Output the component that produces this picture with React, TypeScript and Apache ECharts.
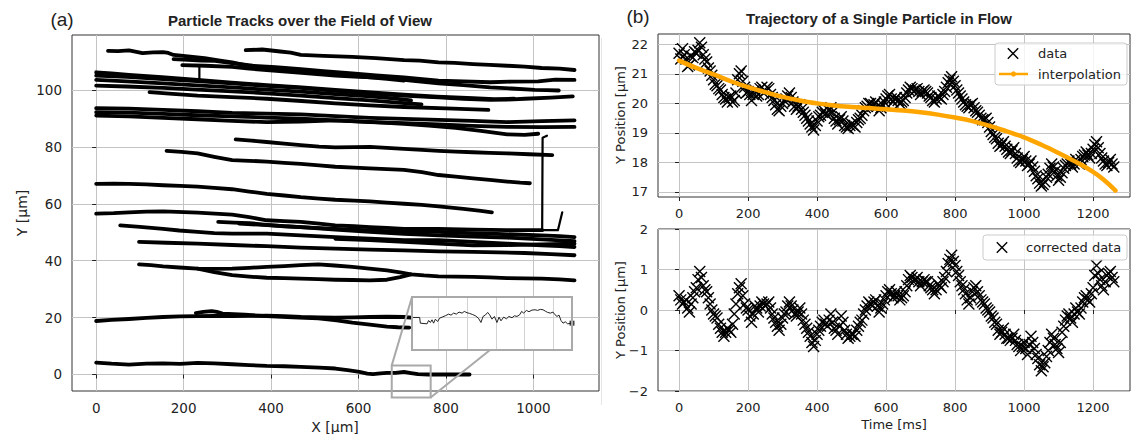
import React, { useEffect, useRef } from 'react';
import * as echarts from 'echarts';

type Pt = [number, number];

// ---------- (a) particle tracks, X [µm], Y [µm] ----------
const PARTICLE_TRACKS: Pt[][] = [
  [[27,113.7],[50,113.6],[75,113.9],[95,113.3],[106,112.9],[130,113.2],[153,113.3],[165,113],[177,112.3],[210,111.8],[248,111.2],[280,110.4],[311,109.7],[335,108.9],[358,108.1],[390,107.7],[429,107],[480,106.6],[547,105.6],[590,105],[626,104.4],[665,103.9],[704,103.3]],
  [[342,114],[380,114.2],[421,113.5],[445,113.1],[468,112.3],[520,112],[586,111.6],[640,111.2],[704,110.5],[740,110.3],[783,109.7],[820,109.5],[862,109.1],[900,108.8],[940,108.5],[980,108.2],[1019,107.7],[1060,107.5],[1094,107]],
  [[177,110.8],[210,110.6],[240,110.3],[272,110.2],[310,109.4],[358,108.5],[410,108],[468,107.3],[520,106.6],[586,105.8],[640,105.1],[704,104.4],[740,103.9],[783,103.3],[840,103],[901,102.7],[950,102.9],[1011,103],[1050,103.6],[1094,103.5]],
  [[197,108.7],[250,108.5],[311,108.1],[350,107.5],[390,107],[470,106],[547,105],[600,104.6],[665,104.2],[720,103.3],[783,102.3],[840,101.7],[901,100.9],[950,100.5],[1003,100],[1030,99.9],[1058,99.8]],
  [[0,106.2],[35,105.8],[75,105.3],[150,104.5],[232,103.5],[310,102.6],[390,101.7],[470,100.9],[547,100],[620,99.2],[704,98.3],[780,97.6],[862,97.1],[910,96.8],[956,96.9]],
  [[0,105],[70,104.6],[153,103.8],[230,103.1],[311,102.3],[390,101.4],[468,100.7],[547,99.7],[626,98.8],[700,98],[783,97.4],[840,96.9],[901,96.5],[940,96.6],[980,96.9],[1040,97.3],[1090,97.7]],
  [[0,103.5],[70,103],[153,102.3],[230,101.6],[311,100.9],[390,100.1],[468,99.4],[547,98.5],[626,97.7],[680,97],[720,96.3]],
  [[0,101.5],[70,101.2],[153,100.7],[230,100.1],[311,99.5],[390,98.8],[468,98],[547,97.1],[626,96.3],[690,95.5],[744,94.9]],
  [[122,99.2],[175,98.6],[232,98],[310,97.5],[390,96.9],[470,96.1],[547,95.3],[626,94.6],[704,94],[800,93.5],[897,93]],
  [[0,93.6],[75,93.4],[153,93],[232,92.5],[311,91.9],[390,91.7],[468,91.4],[547,90.8],[626,90.2],[704,89.8],[783,89.5],[860,89.1],[940,88.7],[1020,89],[1094,89.3]],
  [[0,92.2],[75,92],[153,91.6],[232,91.1],[311,90.7],[390,90.3],[468,89.9],[547,89.3],[626,88.7],[704,88.3],[783,87.9],[860,87.4],[940,87],[1020,86.9],[1094,87]],
  [[0,91],[75,90.7],[153,90.2],[232,89.7],[311,89.1],[390,88.7],[468,88.9],[547,89.3],[626,88.8],[704,88.1],[760,87.5],[822,86.7],[880,85.6],[940,84.4],[980,84.2],[1011,84.6]],
  [[319,82.6],[355,82.2],[390,81.7],[430,81.1],[468,80.6],[510,80.1],[547,79.8],[590,79.9],[626,80],[665,79.6],[704,79.3],[745,78.9],[783,78.6],[822,78.3],[862,78.1],[900,77.9],[940,77.7],[990,77.4],[1043,77.1]],
  [[161,78.6],[195,78.2],[232,77.7],[270,76.5],[311,75.3],[350,75.1],[390,74.8],[430,74.4],[468,74],[510,73.5],[547,73],[590,72.7],[626,72.4],[665,72.2],[704,71.9],[745,71.1],[783,70.1],[822,69.5],[862,68.9],[900,68.4],[940,67.8],[970,67.4],[992,67.2]],
  [[0,67],[40,67.1],[75,67],[115,66.8],[153,66.5],[192,66.3],[232,66],[270,65.6],[311,65.1],[350,64.3],[390,63.5],[430,62.9],[468,62.3],[510,61.8],[547,61.4],[590,61.1],[626,60.8],[665,60.4],[704,60],[745,59.6],[783,59.1],[840,58.2],[880,57.5],[905,57]],
  [[0,56.5],[40,56.7],[75,57],[115,57.2],[153,57.3],[232,56.9],[311,56.2],[350,55.3],[390,54.2],[430,53.9],[468,53.6],[510,53],[547,52.4],[590,52.1],[626,51.8],[665,51.5],[704,51.2],[783,51.2],[862,50.9],[940,50.7],[1020,50.7]],
  [[55,52.4],[100,51.9],[153,51.2],[190,50.6],[232,50.1],[270,49.7],[311,49.5],[390,49.5],[468,48.9],[547,48.3],[626,47.7],[704,47.2],[783,47.2],[862,46.6],[940,46],[1019,45.4],[1060,45.1],[1094,44.8]],
  [[279,53.6],[315,53.4],[350,53.2],[390,52.6],[429,52.1],[490,51.6],[547,51.2],[600,50.8],[665,50.4],[720,50.2],[783,50.1],[840,49.8],[901,49.5],[960,49.2],[1019,48.9],[1060,48.6],[1094,48.3]],
  [[327,53],[400,52.4],[468,51.8],[547,50.9],[626,50.1],[704,49.4],[783,48.9],[862,48.5],[940,48.1],[1019,47.5],[1094,46.9]],
  [[98,46.6],[160,46.3],[232,46],[311,45.5],[390,45.1],[468,44.6],[547,44.2],[626,43.9],[704,43.6],[783,43.3],[862,43.1],[920,42.9],[980,42.7],[1040,42.3],[1094,41.9]],
  [[547,47.7],[626,47.2],[704,46.6],[783,46],[862,45.4],[940,45.5],[1019,45.7],[1094,46]],
  [[98,38.7],[125,38.4],[153,38],[190,37.6],[232,37.2],[270,37.1],[311,37.2],[350,37.5],[390,37.8],[430,38.1],[468,38.4],[508,38.7],[545,38.3],[586,37.8],[625,37.2],[665,36.6],[695,35.9],[720,35.2],[750,34.8],[783,34.5],[822,34.4],[862,34.3],[900,34.1],[940,33.9],[980,33.8],[1019,33.7],[1060,33.4],[1094,33.1]],
  [[232,37.2],[270,36],[311,34.9],[350,34.4],[390,34],[430,33.9],[468,33.7],[508,33.5],[547,33.3],[586,33.2],[626,33.1],[665,33.3],[695,34.2],[720,35.2]],
  [[0,18.8],[35,19.2],[75,19.5],[115,19.9],[153,20.2],[192,20.4],[232,20.5],[270,20.6],[311,20.5],[350,20.6],[390,20.7],[430,20.5],[468,20.2],[510,20.1],[547,20],[590,20.1],[626,20.2],[665,20.3],[704,20.2],[720,20]],
  [[228,21.6],[245,22],[264,22.3],[276,22],[289,21.4],[340,21],[390,20.5],[450,20.1],[508,19.7],[550,19],[586,18.2],[626,17.5],[665,16.8],[690,16.6],[716,16.5]],
  [[0,4.2],[35,3.8],[75,3.5],[115,3.8],[153,3.9],[192,3.7],[232,4.1],[270,3.9],[311,3.6],[350,3.3],[390,3.0],[430,2.9],[468,2.7],[510,2.4],[547,2.1],[575,1.5],[602,0.9],[620,0.3],[633,0.1],[650,0.4],[665,0.6],[685,0.6],[704,0.9],[720,0.5],[736,0.1],[760,0],[783,0],[820,0],[854,0]],
];
const TRACK_JUMPS: Pt[][] = [
  [[236,108.7],[236,103.3]],
  [[1020,50.7],[1021,83.2],[1027,83.6],[1031,83.9]],
  [[1020,50.7],[1056,50.7],[1066,57]],
];
const LEFT_X_TICKS = [0, 200, 400, 600, 800, 1000];
const LEFT_Y_TICKS = [0, 20, 40, 60, 80, 100];

// zoomed region of the bottom track and its inset trace
const ZOOM_X = [676, 765];
const ZOOM_Y = [-8.1, 3.2];
const INSET_U = [0,4.8,5.2,9.4,10.4,11.5,12.5,13.5,14.6,16.0,17.3,18.8,20.8,22.9,24.4,26.0,27.7,29.4,31.3,32.7,34.4,36.0,37.7,39.6,41.5,43.1,44.4,45.8,47.3,48.5,50.0,51.5,53.1,54.4,55.6,57.3,59.0,60.6,62.5,64.0,65.6,67.3,68.5,69.8,71.5,73.1,75.0,76.9,78.5,80.2,81.9,83.3,84.8,86.5,88.1,89.4,90.6,91.9,93.1,94.4,95.8,97.3,99.4,100];
const INSET_V = [6.14,6.14,5.06,4.94,5.57,5.19,5.70,5.06,5.82,5.38,6.01,6.20,6.46,6.77,6.58,6.96,6.77,7.15,6.96,7.28,7.03,6.90,6.71,6.46,6.01,5.19,6.33,6.58,7.09,6.65,5.82,6.33,5.19,6.20,5.51,6.20,5.89,6.33,6.08,6.46,6.33,6.65,7.28,6.96,7.47,7.22,7.53,7.59,7.47,7.66,7.59,7.34,7.09,6.96,7.15,6.65,6.33,6.58,5.57,5.06,5.32,4.94,5.06,5.06];
const INSET_GRID_U = [16.7, 34.8, 52.7, 70.4, 88.1];
const INSET_GRID_V = [6.14];
const INSET_LINK_U = 48.75;

// ---------- (b) single particle ----------
const TIME_MS = [0,10,20,30,40,50,60,70,80,90,100,110,120,130,140,150,160,170,180,190,200,210,220,230,240,250,260,270,280,290,300,310,320,330,340,350,360,370,380,390,400,410,420,430,440,450,460,470,480,490,500,510,520,530,540,550,560,570,580,590,600,610,620,630,640,650,660,670,680,690,700,710,720,730,740,750,760,770,780,790,800,810,820,830,840,850,860,870,880,890,900,910,920,930,940,950,960,970,980,990,1000,1010,1020,1030,1040,1050,1060,1070,1080,1090,1100,1110,1120,1130,1140,1150,1160,1170,1180,1190,1200,1210,1220,1230,1240,1250,1260];
const Y_DATA = [
  21.7,21.85,21.5,21.3,21.55,21.7,22.05,21.65,21.4,21.1,
  20.8,20.6,20.45,20.2,20.05,20.25,20.1,20.8,21.1,20.55,
  20.4,20.1,20.45,20.3,20.55,20.4,20.5,20.2,19.95,19.75,
  20.0,20.15,20.35,20.05,19.8,19.95,19.7,19.5,19.3,19.1,
  19.4,19.6,19.75,19.6,19.85,19.5,19.3,19.55,19.25,19.15,
  19.3,19.2,19.45,19.6,19.85,20.0,19.9,20.05,19.75,19.95,
  20.15,20.3,20.05,20.2,20.0,20.1,20.35,20.55,20.4,20.5,
  20.3,20.45,20.35,20.2,20.05,20.25,20.15,20.4,20.7,20.9,
  20.6,20.35,20.15,19.95,19.85,20.0,19.75,19.6,19.45,19.5,
  19.2,18.95,18.8,18.55,18.7,18.45,18.3,18.5,18.15,18.0,
  18.2,17.9,18.05,17.7,17.45,17.2,17.35,17.6,17.95,17.7,
  17.4,17.65,17.9,18.05,17.85,18.1,17.95,18.2,18.35,18.15,
  18.45,18.7,18.3,18.05,17.9,18.1,17.85,
];
const Y_CORRECTED = [
  0.35,0.15,0.25,-0.05,0.3,0.55,0.95,0.6,0.45,0.15,
  -0.1,-0.2,-0.45,-0.65,-0.45,-0.55,-0.1,0.4,0.65,0.15,
  0.0,-0.3,0.1,-0.05,0.2,0.1,0.2,-0.1,-0.3,-0.5,
  -0.2,-0.05,0.2,0.0,-0.15,0.05,-0.25,-0.45,-0.65,-0.9,
  -0.6,-0.4,-0.25,-0.4,-0.1,-0.45,-0.6,-0.15,-0.5,-0.7,
  -0.6,-0.65,-0.4,-0.25,0.0,0.2,0.1,0.25,-0.05,0.15,
  0.35,0.5,0.3,0.45,0.25,0.35,0.6,0.85,0.7,0.8,
  0.6,0.75,0.7,0.55,0.4,0.65,0.55,0.8,1.15,1.35,
  1.1,0.85,0.6,0.4,0.15,0.45,0.6,0.35,0.2,0.05,
  -0.05,-0.2,-0.35,-0.6,-0.45,-0.7,-0.75,-0.6,-0.85,-1.0,
  -0.8,-1.1,-0.65,-0.95,-1.2,-1.5,-1.3,-1.0,-0.6,-0.85,
  -1.05,-0.55,-0.25,-0.1,-0.3,0.05,-0.1,0.2,0.35,0.2,
  0.55,1.1,0.75,0.5,0.85,0.95,0.7,
];
// samples taken half-way between the ones above
const TIME_MS_B = [5,15,25,35,45,55,65,75,85,95,105,115,125,135,145,155,165,175,185,195,205,215,225,235,245,255,265,275,285,295,305,315,325,335,345,355,365,375,385,395,405,415,425,435,445,455,465,475,485,495,505,515,525,535,545,555,565,575,585,595,605,615,625,635,645,655,665,675,685,695,705,715,725,735,745,755,765,775,785,795,805,815,825,835,845,855,865,875,885,895,905,915,925,935,945,955,965,975,985,995,1005,1015,1025,1035,1045,1055,1065,1075,1085,1095,1105,1115,1125,1135,1145,1155,1165,1175,1185,1195,1205,1215,1225,1235,1245,1255];
const Y_DATA_B = [
  21.5,21.65,21.25,21.6,21.75,21.8,21.9,21.5,21.2,20.95,
  20.65,20.5,20.3,20.15,20.2,20.05,20.35,21.0,20.75,20.35,
  20.3,20.3,20.25,20.5,20.35,20.55,20.3,20.1,19.8,19.9,
  20.1,20.25,20.2,19.9,19.9,19.8,19.6,19.4,19.2,19.25,
  19.55,19.7,19.65,19.75,19.7,19.4,19.45,19.4,19.2,19.25,
  19.25,19.35,19.5,19.75,19.9,20.0,19.95,19.9,19.85,20.05,
  20.25,20.15,20.15,20.1,20.05,20.2,20.45,20.5,20.45,20.4,
  20.4,20.4,20.25,20.1,20.15,20.2,20.3,20.55,20.8,20.75,
  20.45,20.25,20.05,19.9,19.95,19.85,19.7,19.5,19.45,19.35,
  19.05,18.85,18.65,18.6,18.55,18.35,18.4,18.3,18.05,18.1,
  18.05,17.95,17.85,17.55,17.3,17.25,17.5,17.8,17.85,17.55,
  17.5,17.8,17.95,17.95,17.95,18.0,18.1,18.25,18.25,18.3,
  18.6,18.5,18.15,17.95,18.0,17.95,
];
const Y_CORRECTED_B = [
  0.25,0.2,0.05,0.15,0.45,0.75,0.8,0.5,0.3,0.0,
  -0.15,-0.35,-0.55,-0.55,-0.5,-0.35,0.15,0.55,0.35,0.05,
  -0.15,-0.1,0.05,0.1,0.15,0.15,0.05,-0.2,-0.4,-0.35,
  -0.1,0.1,0.1,-0.1,-0.05,-0.1,-0.35,-0.55,-0.8,-0.75,
  -0.5,-0.3,-0.35,-0.25,-0.3,-0.5,-0.4,-0.3,-0.6,-0.65,
  -0.6,-0.5,-0.3,-0.1,0.1,0.15,0.2,0.1,0.05,0.25,
  0.45,0.4,0.35,0.35,0.3,0.45,0.75,0.8,0.75,0.7,
  0.7,0.7,0.6,0.5,0.5,0.6,0.7,0.95,1.25,1.2,
  0.95,0.7,0.5,0.25,0.3,0.55,0.45,0.25,0.15,0.0,
  -0.15,-0.3,-0.5,-0.55,-0.6,-0.7,-0.7,-0.75,-0.9,-0.9,
  -0.95,-0.85,-0.8,-1.1,-1.35,-1.4,-1.15,-0.8,-0.7,-0.95,
  -0.8,-0.4,-0.15,-0.2,-0.1,-0.05,0.05,0.3,0.25,0.4,
  0.85,0.9,0.6,0.7,0.9,0.8,
];
const INTERP_T = [0,50,100,150,200,250,300,350,400,450,500,550,600,650,700,750,800,850,900,950,1000,1050,1100,1150,1200,1230,1265];
const INTERP_Y = [21.45,21.2,20.98,20.75,20.55,20.38,20.22,20.1,20.0,19.93,19.88,19.84,19.8,19.76,19.7,19.62,19.52,19.4,19.24,19.05,18.85,18.6,18.32,18.02,17.68,17.42,17.05];
const TIME_TICKS = [0, 200, 400, 600, 800, 1000, 1200];
const TOP_Y_TICKS = [17, 18, 19, 20, 21, 22];
const BOTTOM_Y_TICKS = [-2, -1, 0, 1, 2];

const TITLE_A = 'Particle Tracks over the Field of View';
const TITLE_B = 'Trajectory of a Single Particle in Flow';

const FONT = '"DejaVu Sans", sans-serif';
const INK = '#222';
const GRID_LINE = '#c4c4c4';
const X_MARK = 'path://M0,0L10,10M10,0L0,10';
const ORANGE = '#ffa500';

const minus = (v: number) => (v < 0 ? '\u2212' + Math.abs(v) : String(v));

function valueAxis(grid: number, min: number, max: number, split: number, ticks: number[], fontSize: number, extra: any = {}) {
  return {
    type: 'value',
    gridIndex: grid,
    min,
    max,
    splitNumber: split,
    axisLine: { show: false },
    axisTick: { show: true, inside: false, length: 4, customValues: ticks, lineStyle: { color: INK, width: 1 } },
    axisLabel: { customValues: ticks, fontFamily: FONT, fontSize, color: INK, margin: 10, formatter: (v: number) => minus(v) },
    splitLine: { show: true, lineStyle: { color: GRID_LINE, width: 1 } },
    ...extra,
  };
}

function hiddenAxis(grid: number, min: number, max: number) {
  return {
    type: 'value', gridIndex: grid, min, max,
    axisLine: { show: false }, axisTick: { show: false }, axisLabel: { show: false }, splitLine: { show: false },
  };
}

function pairs(xs: number[], ys: number[]) {
  return xs.map((x, i) => [x, ys[i]]);
}

function buildOption() {
  const frame = { show: true, borderColor: '#333', borderWidth: 1, backgroundColor: 'transparent', containLabel: false, outerBoundsMode: 'none' };
  const trackSeries = PARTICLE_TRACKS.map((tr) => ({
    type: 'line', xAxisIndex: 0, yAxisIndex: 0, data: tr, symbol: 'none', silent: true, z: 2,
    lineStyle: { color: '#000', width: 3.8, join: 'round', cap: 'round' },
  }));
  const jumpSeries = TRACK_JUMPS.map((tr) => ({
    type: 'line', xAxisIndex: 0, yAxisIndex: 0, data: tr, symbol: 'none', silent: true, z: 2,
    lineStyle: { color: '#000', width: 2.2, join: 'round', cap: 'round' },
  }));
  const markGrid = [
    ...INSET_GRID_U.map((u) => ({ xAxis: u })),
    ...INSET_GRID_V.map((v) => ({ yAxis: v })),
  ];
  const cross = {
    type: 'scatter', silent: true, z: 2, symbol: X_MARK, symbolSize: 11,
    itemStyle: { color: '#000', borderColor: '#000', borderWidth: 1.4, opacity: 1 },
  };
  return {
    animation: false,
    backgroundColor: '#fff',
    grid: [
      { left: 72, top: 35, width: 527, height: 356, ...frame },
      { left: 658, top: 34, width: 472, height: 163, ...frame },
      { left: 658, top: 229, width: 472, height: 162, ...frame },
      { left: 412, top: 297, width: 160, height: 53, show: false, containLabel: false, outerBoundsMode: 'none' },
    ],
    xAxis: [
      valueAxis(0, -55.3, 1150, 6, LEFT_X_TICKS, 13.5),
      valueAxis(1, -61, 1307, 7, TIME_TICKS, 13),
      valueAxis(2, -61, 1307, 7, TIME_TICKS, 13),
      hiddenAxis(3, 0, 100),
    ],
    yAxis: [
      valueAxis(0, -5.8, 119.3, 6, LEFT_Y_TICKS, 13.5),
      valueAxis(1, 16.83, 22.35, 5, TOP_Y_TICKS, 13),
      valueAxis(2, -2, 2, 4, BOTTOM_Y_TICKS, 13, { interval: 1 }),
      hiddenAxis(3, 0, 10),
    ],
    series: [
      ...trackSeries,
      ...jumpSeries,
      {
        type: 'line', xAxisIndex: 3, yAxisIndex: 3, symbol: 'none', silent: true, z: 8,
        data: pairs(INSET_U, INSET_V),
        lineStyle: { color: '#222', width: 1 },
        markLine: {
          silent: true, symbol: ['none', 'none'], z: 6, label: { show: false },
          lineStyle: { color: '#d2d2d2', width: 1, type: 'solid' },
          data: markGrid,
        },
      },
      {
        type: 'scatter', xAxisIndex: 3, yAxisIndex: 3, silent: true, z: 8, symbol: 'rect', symbolSize: 5,
        itemStyle: { color: '#111' },
        data: [[INSET_U[INSET_U.length - 1], INSET_V[INSET_V.length - 1]]],
      },
      { ...cross, name: 'data', xAxisIndex: 1, yAxisIndex: 1, data: [...pairs(TIME_MS, Y_DATA), ...pairs(TIME_MS_B, Y_DATA_B)] },
      {
        name: 'interpolation', type: 'line', xAxisIndex: 1, yAxisIndex: 1, silent: true, z: 3,
        smooth: 0.4, symbol: 'none',
        lineStyle: { color: ORANGE, width: 4.5, cap: 'round' },
        data: pairs(INTERP_T, INTERP_Y),
      },
      { ...cross, name: 'corrected data', xAxisIndex: 2, yAxisIndex: 2, data: [...pairs(TIME_MS, Y_CORRECTED), ...pairs(TIME_MS_B, Y_CORRECTED_B)] },
    ],
  };
}

function txt(x: number, y: number, text: string, font: string, extra: any = {}) {
  return {
    type: 'text', x, y, silent: true, z: 30, ...extra,
    style: { text, font, fill: INK, align: 'center', verticalAlign: 'middle', textAlign: 'center', textVerticalAlign: 'middle' },
  };
}

function leftTxt(x: number, y: number, text: string, font: string) {
  return {
    type: 'text', x, y, silent: true, z: 31,
    style: { text, font, fill: INK, align: 'left', verticalAlign: 'middle', textAlign: 'left', textVerticalAlign: 'middle' },
  };
}

function xMark(cx: number, cy: number, r: number) {
  return [
    { type: 'line', silent: true, z: 31, shape: { x1: cx - r, y1: cy - r, x2: cx + r, y2: cy + r }, style: { stroke: '#000', lineWidth: 1.4 } },
    { type: 'line', silent: true, z: 31, shape: { x1: cx - r, y1: cy + r, x2: cx + r, y2: cy - r }, style: { stroke: '#000', lineWidth: 1.4 } },
  ];
}

export default function App() {
  const ref = useRef<HTMLDivElement>(null);
  useEffect(() => {
    document.body.style.margin = '0';
    const chart = echarts.init(ref.current!, null, { renderer: 'svg' });
    chart.setOption(buildOption() as any);

    const px = (g: number, x: number, y: number) => chart.convertToPixel({ xAxisIndex: g, yAxisIndex: g } as any, [x, y]) as number[];
    const z0 = px(0, ZOOM_X[0], ZOOM_Y[1]);
    const z1 = px(0, ZOOM_X[1], ZOOM_Y[0]);
    const i0 = px(3, 0, 10);
    const i1 = px(3, 100, 0);
    const link = px(3, INSET_LINK_U, 0);
    const grey = '#a9a9a9';
    const labelFontA = '14px "DejaVu Sans", sans-serif';
    const labelFontB = '13px "DejaVu Sans", sans-serif';
    const legendFont = '13px "DejaVu Sans", sans-serif';

    const graphics: any[] = [
      { type: 'line', silent: true, z: 1, shape: { x1: 601.5, y1: 38, x2: 601.5, y2: 405 }, style: { stroke: '#e6e6e6', lineWidth: 1 } },
      txt(62, 19, '(a)', '19px "Liberation Sans", Arial, sans-serif'),
      txt(638, 16, '(b)', '19px "Liberation Sans", Arial, sans-serif'),
      txt(300, 20, TITLE_A, 'bold 15px "Liberation Sans", Arial, sans-serif'),
      txt(879, 18, TITLE_B, 'bold 15px "Liberation Sans", Arial, sans-serif'),
      txt(335, 427, 'X [\u03bcm]', labelFontA),
      txt(22, 213, 'Y [\u03bcm]', labelFontA, { rotation: Math.PI / 2 }),
      txt(620, 115, 'Y Position [\u03bcm]', labelFontB, { rotation: Math.PI / 2 }),
      txt(620, 310, 'Y Position [\u03bcm]', labelFontB, { rotation: Math.PI / 2 }),
      txt(894, 424, 'Time [ms]', labelFontB),
      // inset background, border, zoom box, connectors
      { type: 'rect', silent: true, z: 4, shape: { x: i0[0], y: i0[1], width: i1[0] - i0[0], height: i1[1] - i0[1] }, style: { fill: '#fff', stroke: 'none' } },
      { type: 'rect', silent: true, z: 9, shape: { x: i0[0], y: i0[1], width: i1[0] - i0[0], height: i1[1] - i0[1] }, style: { fill: 'none', stroke: grey, lineWidth: 2 } },
      { type: 'rect', silent: true, z: 9, shape: { x: z0[0], y: z0[1], width: z1[0] - z0[0], height: z1[1] - z0[1] }, style: { fill: 'none', stroke: grey, lineWidth: 2 } },
      { type: 'line', silent: true, z: 9, shape: { x1: z0[0], y1: z0[1], x2: i0[0], y2: i0[1] }, style: { stroke: grey, lineWidth: 2 } },
      { type: 'line', silent: true, z: 9, shape: { x1: z1[0], y1: z1[1], x2: link[0], y2: link[1] }, style: { stroke: grey, lineWidth: 2 } },
      // legend (top)
      { type: 'rect', silent: true, z: 29, shape: { x: 995, y: 43, width: 132, height: 42, r: 3 }, style: { fill: 'rgba(255,255,255,0.8)', stroke: '#cccccc', lineWidth: 1 } },
      ...xMark(1013, 53.5, 5.2),
      leftTxt(1038, 53.5, 'data', legendFont),
      { type: 'line', silent: true, z: 31, shape: { x1: 999, y1: 74, x2: 1028, y2: 74 }, style: { stroke: ORANGE, lineWidth: 2.5 } },
      { type: 'circle', silent: true, z: 32, shape: { cx: 1013.5, cy: 74, r: 2.6 }, style: { fill: ORANGE, stroke: 'none' } },
      leftTxt(1038, 74, 'interpolation', legendFont),
      // legend (bottom)
      { type: 'rect', silent: true, z: 29, shape: { x: 983, y: 235, width: 144, height: 25, r: 3 }, style: { fill: 'rgba(255,255,255,0.8)', stroke: '#cccccc', lineWidth: 1 } },
      ...xMark(1002, 247.5, 5.2),
      leftTxt(1026, 247.5, 'corrected data', legendFont),
    ];
    chart.setOption({ graphic: graphics } as any);
    return () => chart.dispose();
  }, []);
  return <div ref={ref} style={{ width: 1132, height: 434 }} />;
}
